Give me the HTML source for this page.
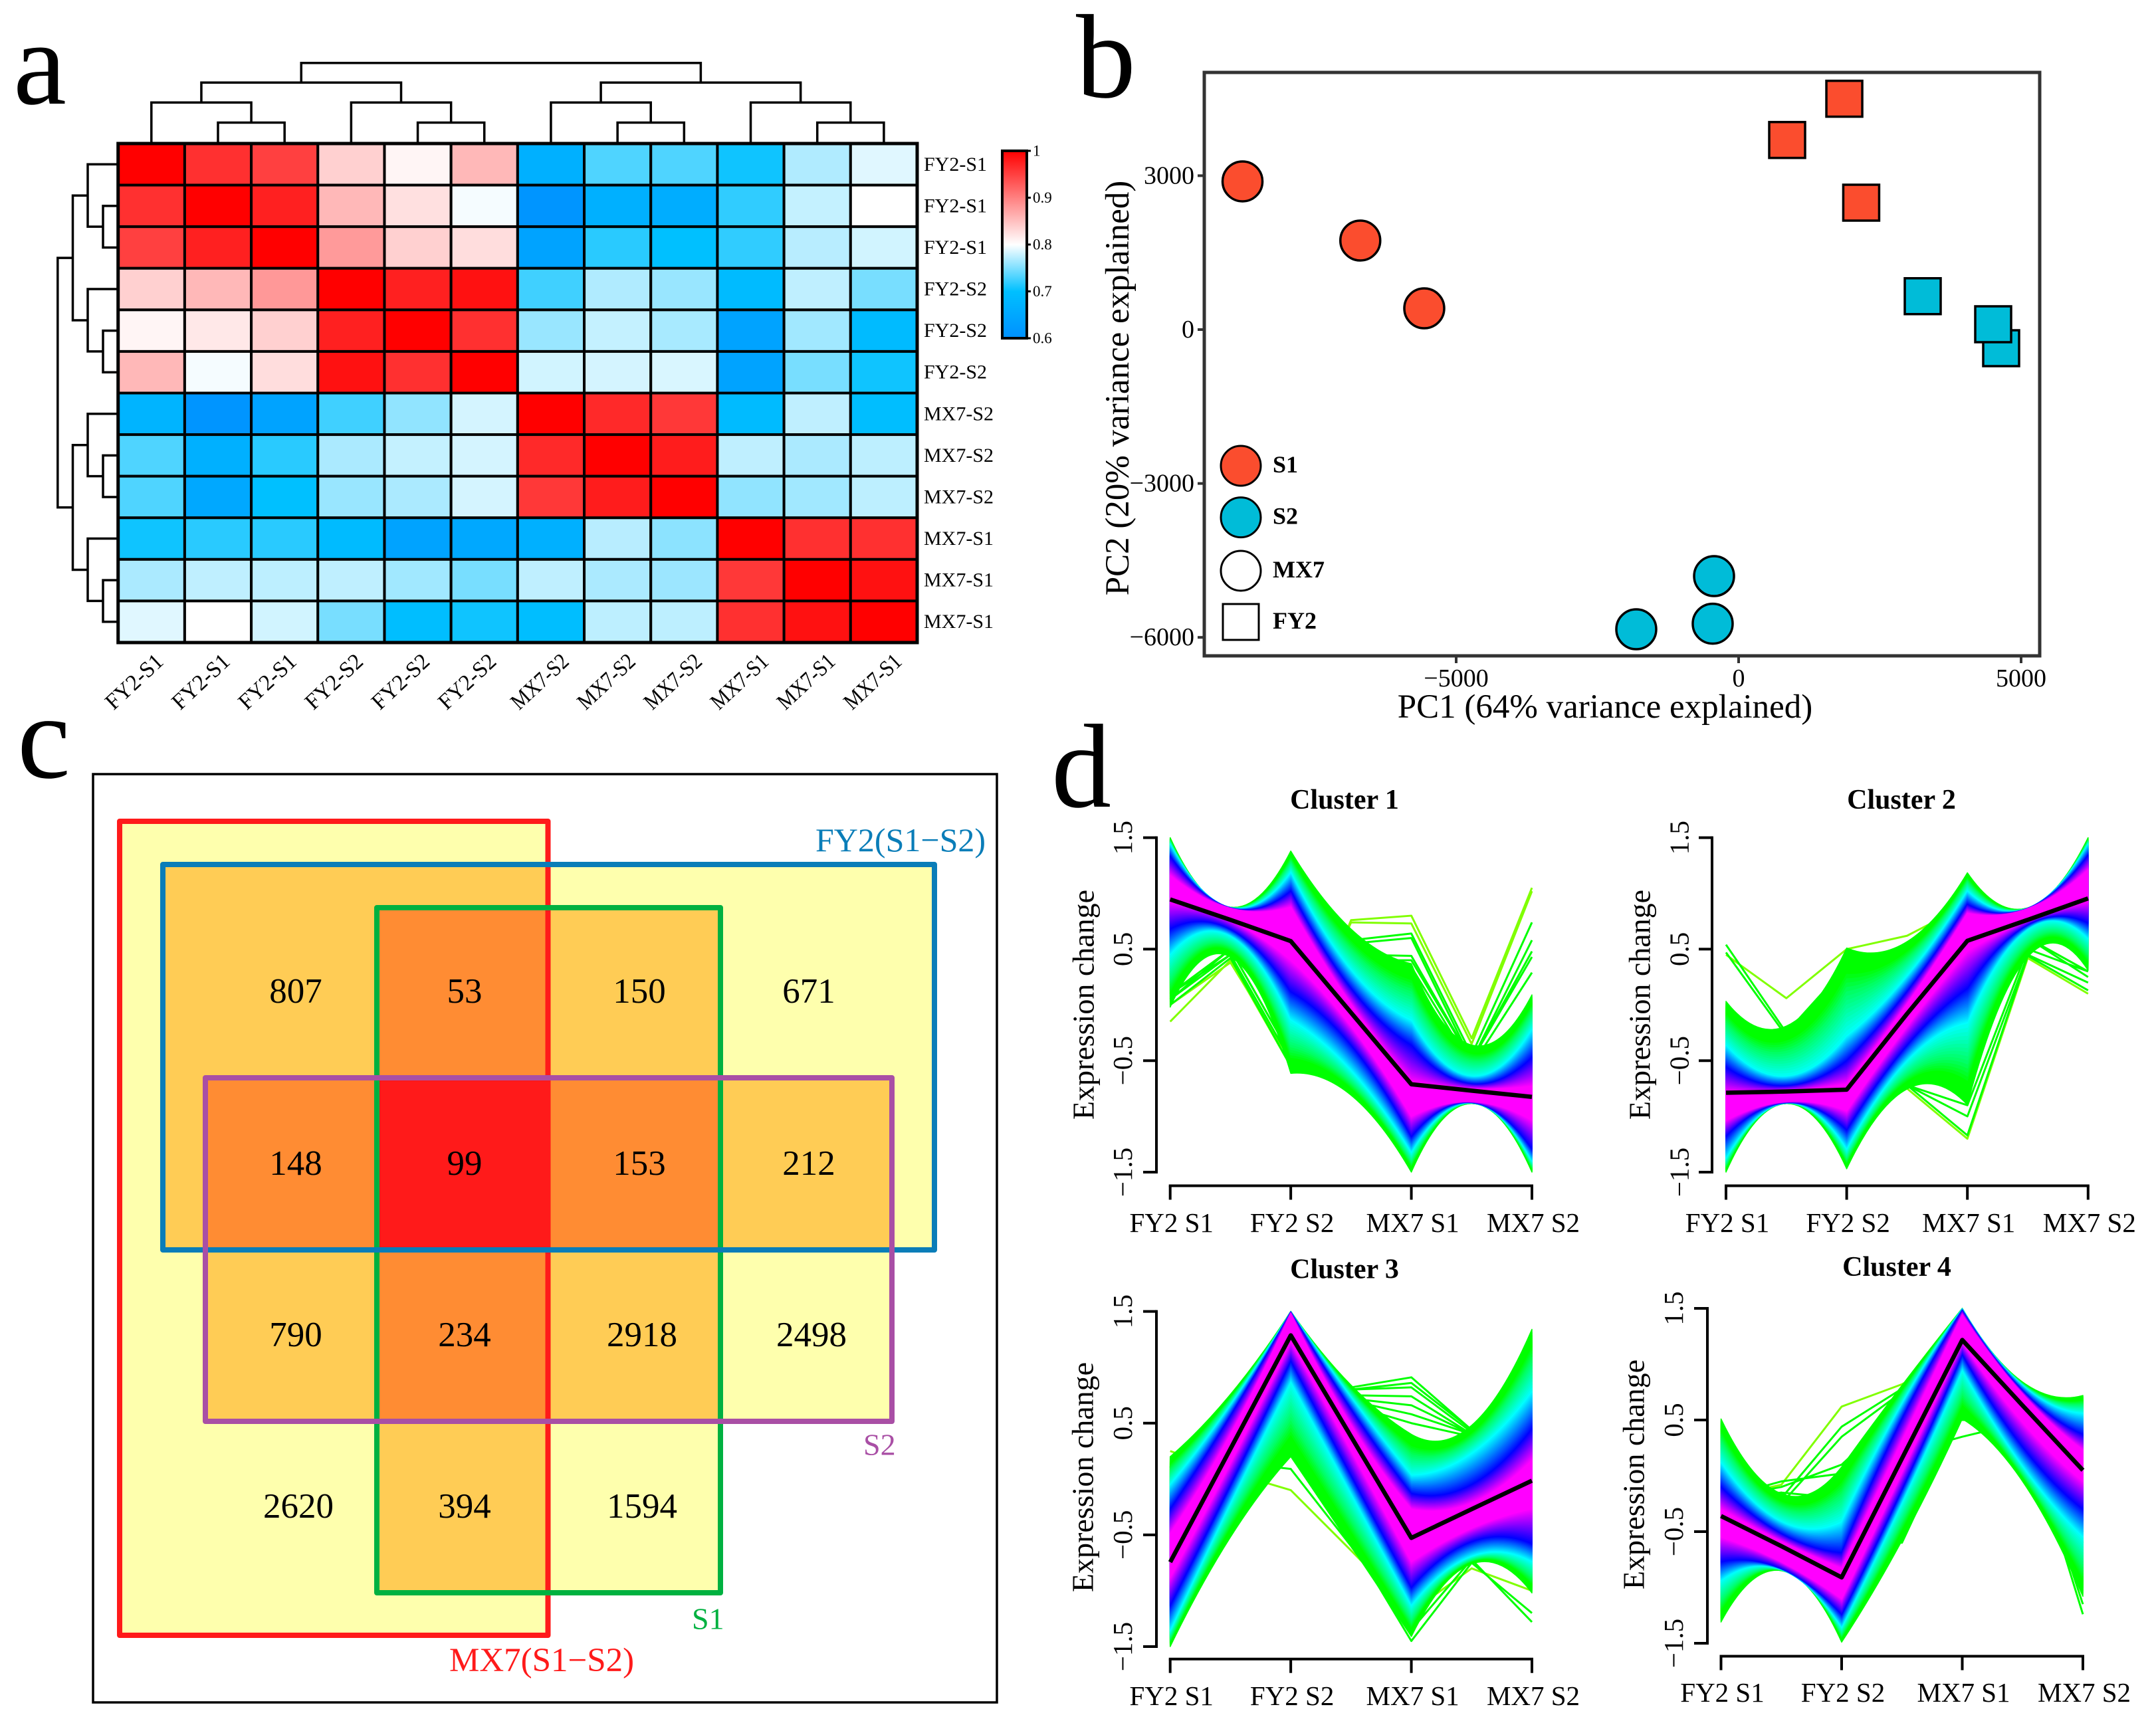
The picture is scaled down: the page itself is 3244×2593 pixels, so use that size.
<!DOCTYPE html>
<html lang="en">
<head>
<meta charset="utf-8">
<title>Expression analysis figure</title>
<style>
html,body{margin:0;padding:0;background:#fff}
svg{display:block}
text{font-family:"Liberation Serif","Noto Serif CJK SC",serif;fill:#000}
</style>
</head>
<body>
<svg id="figure" xmlns="http://www.w3.org/2000/svg" width="3244" height="2593" viewBox="0 0 3244 2593">
  <rect x="0" y="0" width="3244" height="2593" fill="#fff"/>
  <text x="20" y="156" font-size="180">a</text>
  <text x="1619" y="146" font-size="180">b</text>
  <text x="26" y="1170" font-size="180">c</text>
  <text x="1582" y="1214" font-size="180">d</text>
  <g id="panel-a"></g>
  <g id="panel-b"></g>
  <g id="panel-c"></g>
  <g id="panel-d"></g>
</svg>
<script>
/* ---------- Panel a data ---------- */
const heatRowLabels = ['FY2-S1','FY2-S1','FY2-S1','FY2-S2','FY2-S2','FY2-S2','MX7-S2','MX7-S2','MX7-S2','MX7-S1','MX7-S1','MX7-S1'];
const heatColLabels = ['FY2-S1','FY2-S1','FY2-S1','FY2-S2','FY2-S2','FY2-S2','MX7-S2','MX7-S2','MX7-S2','MX7-S1','MX7-S1','MX7-S1'];
const heatValues = [
 [1,.962,.95,.837,.808,.856,.667,.731,.731,.706,.769,.788],
 [.962,1,.975,.856,.824,.796,.61,.667,.66,.719,.777,.8],
 [.95,.975,1,.879,.837,.827,.64,.716,.70,.719,.772,.782],
 [.837,.856,.881,1,.975,.987,.725,.769,.76,.69,.775,.747],
 [.808,.818,.837,.975,1,.962,.76,.777,.766,.64,.763,.69],
 [.856,.796,.827,.987,.962,1,.782,.783,.785,.64,.747,.706],
 [.675,.61,.64,.725,.757,.783,1,.968,.956,.69,.775,.695],
 [.731,.667,.716,.767,.777,.783,.968,1,.978,.775,.767,.774],
 [.731,.65,.70,.76,.767,.783,.956,.978,1,.757,.763,.774],
 [.706,.716,.716,.69,.64,.65,.667,.772,.755,1,.962,.962],
 [.767,.775,.774,.775,.763,.747,.775,.767,.761,.956,1,.987],
 [.788,.8,.782,.747,.695,.706,.695,.774,.774,.962,.987,1]
];
const colorbarTicks = [1,.9,.8,.7,.6];
const dendroTree = [[[0,[1,2]],[3,[4,5]]],[[6,[7,8]],[9,[10,11]]]];

/* ---------- Panel b data ---------- */
const pcaXTicks = [-5000,0,5000];
const pcaYTicks = [3000,0,-3000,-6000];
const pcaPc1 = [-8782,-6697,-5565,-435,-459,-1812,1871,859,2170,3259,4647,4506];
const pcaPc2 = [2889,1736,414,-4806,-5733,-5842,4500,3696,2474,651,-363,104];
const pcaStage = ['S1','S1','S1','S2','S2','S2','S1','S1','S1','S2','S2','S2'];
const pcaLine = ['MX7','MX7','MX7','MX7','MX7','MX7','FY2','FY2','FY2','FY2','FY2','FY2'];

/* ---------- Panel c data ---------- */
const vennCountsText = [
 ['807','53','150','671'],
 ['148','99','153','212'],
 ['790','234','2918','2498'],
 ['2620','394','1594','']
];

/* ---------- Panel d data ---------- */
const clusterConditions = ['FY2 S1','FY2 S2','MX7 S1','MX7 S2'];
const clusterYTicks = [1.5,0.5,-0.5,-1.5];
/* band order at each of 7 time knots:
   green top, cyan top, blue top, magenta top, magenta bottom, blue bottom, cyan bottom, green bottom */
const cluster1Bands = [
 [1.5,1.44,1.33,1.16,.93,.68,.45,-.02],
 [.876,.873,.87,.865,.763,.68,.62,.43],
 [1.38,1.185,1.02,.876,.4,.117,-.136,-.614],
 [.68,.314,.145,.004,-.19,-.36,-.586,-.81],
 [.37,-.136,-.36,-.684,-1.0,-1.18,-1.32,-1.5],
 [-.36,-.64,-.71,-.755,-.867,-.875,-.88,-.885],
 [.09,-.22,-.47,-.727,-1.036,-1.29,-1.4,-1.5]
];
const cluster1Mean = [.946,.763,.572,-.07,-.712,-.769,-.825];
const cluster1Outliers = [
 [-.15,.4,-.55,.76,.8,-.3,1.05],
 [0,.38,-.5,.74,.73,-.35,1.02],
 [0,.42,-.55,.58,.64,-.45,.74],
 [.05,.45,-.5,.55,.6,-.5,.58],
 [.1,.45,-.5,.45,.44,-.5,.48],
 [.1,.5,-.45,.4,.4,-.5,.43],
 [.05,.5,-.45,.35,.34,-.55,.29]
];
const cluster2Bands = [
 [.032,-.36,-.558,-.783,-1.036,-1.177,-1.374,-1.5],
 [-.19,-.64,-.727,-.777,-.867,-.876,-.881,-.885],
 [.51,-.277,-.5,-.71,-.95,-1.12,-1.29,-1.47],
 [.567,.257,.117,.004,-.19,-.36,-.5,-.755],
 [1.185,1.02,.9,.82,.48,.145,-.164,-.895],
 [.87,.868,.866,.862,.763,.72,.68,.43],
 [1.5,1.44,1.34,1.21,.93,.735,.595,.31]
];
const cluster2Mean = [-.788,-.777,-.76,-.08,.575,.763,.955];
const cluster2Outliers = [
 [.45,.06,.5,.62,.9,.6,.3],
 [-.8,-.85,-.9,-.75,-1.2,.42,.1],
 [.54,-.25,.35,.5,.9,.6,.25],
 [.47,-.28,.3,.5,.9,.6,.3],
 [-.8,-.85,-.88,-.72,-1.17,.44,.13],
 [-.8,-.85,-.9,-.72,-1.0,.45,.2],
 [-.8,-.85,-.9,-.72,-.9,.5,.3]
];
const cluster3Bands = [
 [.2,-.05,-.27,-.49,-.88,-1.13,-1.355,-1.5],
 [.758,.66,.563,.396,.146,-.05,-.215,-.52],
 [1.5,1.498,1.495,1.48,1.23,1.06,.87,.2],
 [.84,.73,.62,.48,.257,.035,-.13,-.6],
 [.4,.035,-.13,-.27,-.74,-.97,-1.13,-1.41],
 [.48,.23,-.05,-.215,-.44,-.56,-.69,-.76],
 [1.34,.785,.45,.17,-.27,-.58,-.74,-1.02]
];
const cluster3Mean = [-.744,.27,1.286,.38,-.527,-.27,-.015];
const cluster3Outliers = [
 [.25,.06,-.1,-.64,-1.19,-.8,-1.0],
 [.1,.15,.09,-.6,-1.35,-.72,-1.28],
 [.1,.3,.3,-.55,-1.45,-.75,-1.2],
 [.1,.6,1.1,.82,.91,.44,.8],
 [.1,.6,1.1,.8,.86,.44,.8],
 [.1,.6,1.05,.8,.82,.42,.8],
 [.1,.6,1.0,.75,.74,.4,.8],
 [.1,.6,1.0,.72,.66,.4,.8],
 [.1,.6,.95,.7,.58,.4,.8],
 [.1,.6,.95,.66,.5,.38,.8]
];
const cluster4Bands = [
 [.51,.12,-.1,-.3,-.55,-.77,-.94,-1.31],
 [-.16,-.41,-.52,-.59,-.77,-.83,-.84,-.85],
 [.08,-.41,-.69,-.83,-1.1,-1.24,-1.355,-1.49],
 [.81,.645,.507,.31,.035,-.12,-.24,-.58],
 [1.5,1.497,1.48,1.44,1.2,1.09,.95,.51],
 [.84,.81,.76,.73,.48,.26,.09,-.05],
 [.72,.56,.37,.23,-.05,-.3,-.55,-1.08]
];
const cluster4Mean = [-.36,-.63,-.91,.155,1.217,.63,.05];
const cluster4Outliers = [
 [-.2,-.08,.62,.82,1.1,.7,.4],
 [-.2,-.2,.44,.78,1.1,.7,.4],
 [-.2,-.25,.35,.75,1.1,.7,.4],
 [-.2,-.1,.1,.6,1.0,.5,-.4],
 [-.2,-.05,.02,.5,.5,.5,-.5],
 [-.2,-.15,-.2,.2,.35,.48,-.6],
 [-.6,-.15,-.5,-.6,.56,.52,-1.24],
 [-.6,-.3,-.6,-.55,.62,.5,-1.15]
];

/* ---------- helpers ---------- */
const SVGNS = 'http://www.w3.org/2000/svg';
function mk(parent, tag, attrs){
  const el = document.createElementNS(SVGNS, tag);
  for (const k in attrs) el.setAttribute(k, attrs[k]);
  parent.appendChild(el);
  return el;
}
function txt(parent, str, x, y, size, extra){
  const el = mk(parent, 'text', Object.assign({x:x, y:y, 'font-size':size, 'dominant-baseline':'central'}, extra||{}));
  el.textContent = str;
  return el;
}
function minus(v){ return String(v).replace('-', '\u2212'); }
function lerp(a,b,t){ return a+(b-a)*t; }

/* ---------- Panel a ---------- */
(function(){
  const g = document.getElementById('panel-a');
  const left = 177.7, right = 1380, top = 216, bottom = 967;
  const n = heatValues.length;
  const cw = (right-left)/heatValues[0].length, ch = (bottom-top)/n;
  const colX = i => left + cw*(i+.5);
  const rowY = i => top + ch*(i+.5);
  function heatColor(v){
    let r,gg,b;
    if (v < .7){ const t=(v-.6)/.1; r=0; gg=lerp(144,192,t); b=255; }
    else if (v < .8){ const t=(v-.7)/.1; r=lerp(0,255,t); gg=lerp(192,255,t); b=255; }
    else { const t=(v-.8)/.2; r=255; gg=lerp(255,0,t); b=lerp(255,0,t); }
    return 'rgb('+Math.round(r)+','+Math.round(gg)+','+Math.round(b)+')';
  }
  heatValues.forEach((row,ri)=>row.forEach((v,ci)=>{
    const c = mk(g,'rect',{x:left+cw*ci,y:top+ch*ri,width:cw,height:ch,fill:heatColor(v),stroke:'#000','stroke-width':4});
    
    
  }));
  const frame = mk(g,'rect',{x:left,y:top,width:right-left,height:bottom-top,fill:'none',stroke:'#000','stroke-width':5});
  
  
  heatRowLabels.forEach((s,i)=>{
    const t = txt(g,s,1390,rowY(i),30);
    
    
  });
  heatColLabels.forEach((s,i)=>{
    const x = colX(i)+(s.charAt(0)==='M'?29:20), y = 998;
    const t = mk(g,'text',{x:x,y:y,'font-size':34,'text-anchor':'end',textLength:105,lengthAdjust:'spacingAndGlyphs',transform:'rotate(-43 '+x+' '+y+')'});
    t.textContent = s;
    
    
  });
  /* dendrograms */
  const topLevels = [94.7,124.2,154.3,184.5], topBase = 214;
  const leftLevels = [86.8,109.5,132,155], leftBase = 175.6;
  function drawTree(node, depth, pos, levels, base, horizontal, name){
    if (typeof node === 'number') return {c:pos(node), h:base};
    const a = drawTree(node[0], depth+1, pos, levels, base, horizontal, name);
    const b = drawTree(node[1], depth+1, pos, levels, base, horizontal, name);
    const h = levels[depth];
    const d = horizontal
      ? 'M'+a.c+' '+a.h+'V'+h+'H'+b.c+'V'+b.h
      : 'M'+a.h+' '+a.c+'H'+h+'V'+b.c+'H'+b.h;
    const p = mk(g,'path',{d:d,fill:'none',stroke:'#000','stroke-width':3.5});
    
    
    return {c:(a.c+b.c)/2, h:h};
  }
  drawTree(dendroTree,0,colX,topLevels,topBase,true,'column-dendrogram-branch');
  drawTree(dendroTree,0,rowY,leftLevels,leftBase,false,'row-dendrogram-branch');
  /* colour bar */
  const cbx=1508, cbw=37, cbTop=227, cbBot=509;
  const cbY = v => cbBot - (v-.6)/.4*(cbBot-cbTop);
  const defs = mk(g,'defs',{});
  const grad = mk(defs,'linearGradient',{id:'cbgrad',x1:0,y1:1,x2:0,y2:0});
  [.6,.65,.7,.75,.8,.85,.9,.95,1].forEach(v=>{
    mk(grad,'stop',{offset:(v-.6)/.4,'stop-color':heatColor(v)});
  });
  const bar = mk(g,'rect',{x:cbx,y:cbTop,width:cbw,height:cbBot-cbTop,fill:'url(#cbgrad)',stroke:'#000','stroke-width':4});
  
  
  colorbarTicks.forEach(v=>{
    const tk = mk(g,'line',{x1:cbx+cbw,x2:cbx+cbw+6,y1:cbY(v),y2:cbY(v),stroke:'#000','stroke-width':3});
    
    
    const t = txt(g,String(v).replace(/^\./,'0.'),1554,cbY(v),23);
    
    
  });
})();

/* ---------- Panel b ---------- */
(function(){
  const g = document.getElementById('panel-b');
  const bx0=1812,bx1=3069,by0=109,by1=987;
  const xS = v => 2616 + v*0.085;
  const yS = v => 496 - v*0.0772;
  const stageColor = {S1:'#fb4d2e',S2:'#00bcd8'};
  const box = mk(g,'rect',{x:bx0,y:by0,width:bx1-bx0,height:by1-by0,fill:'#fff',stroke:'#333','stroke-width':5});
  
  
  pcaXTicks.forEach(v=>{
    const tk = mk(g,'line',{x1:xS(v),x2:xS(v),y1:by1,y2:by1+11,stroke:'#333','stroke-width':4});
    
    
    const t = txt(g,minus(v),xS(v),1021,38,{'text-anchor':'middle'});
    
    
  });
  pcaYTicks.forEach(v=>{
    const tk = mk(g,'line',{x1:bx0-10,x2:bx0,y1:yS(v),y2:yS(v),stroke:'#333','stroke-width':4});
    
    
    const t = txt(g,minus(v),1797,yS(v),38,{'text-anchor':'end'});
    
    
  });
  const xt = txt(g,'PC1 (64% variance explained)',2415,1064,51,{'text-anchor':'middle'});
  
  
  const yt = txt(g,'PC2 (20% variance explained)',1682,584,51,{'text-anchor':'middle',transform:'rotate(-90 1682 584)'});
  
  
  pcaPc1.forEach((v,i)=>{
    const cx=xS(v), cy=yS(pcaPc2[i]), fill=stageColor[pcaStage[i]];
    let m;
    if (pcaLine[i]==='MX7') m = mk(g,'circle',{cx:cx,cy:cy,r:30,fill:fill,stroke:'#000','stroke-width':3.5});
    else m = mk(g,'rect',{x:cx-27,y:cy-27,width:54,height:54,fill:fill,stroke:'#000','stroke-width':3.5});
    
    
  });
  const lg = mk(g,'g',{});
  
  
  [['S1',701,'c','#fb4d2e'],['S2',778.6,'c','#00bcd8'],['MX7',859,'c','#fff'],['FY2',936,'s','#fff']].forEach(e=>{
    let m;
    if (e[2]==='c') m = mk(lg,'circle',{cx:1867,cy:e[1],r:30,fill:e[3],stroke:'#000','stroke-width':3});
    else m = mk(lg,'rect',{x:1840,y:e[1]-27,width:54,height:54,fill:e[3],stroke:'#000','stroke-width':3});
    
    
    const t = txt(lg,e[0],1915,e[1]-2,36,{'font-weight':'bold'});
    
    
  });
})();

/* ---------- Panel c ---------- */
(function(){
  const g = document.getElementById('panel-c');
  const outer = mk(g,'rect',{x:140,y:1165,width:1360,height:1397,fill:'#fff',stroke:'#000','stroke-width':3.5});
  
  
  const sets = [
    {n:'mx7-set',x0:180,x1:824.5,y0:1236,y1:2461,c:'#ff1a1a'},
    {n:'s1-set',x0:567,x1:1084,y0:1366,y1:2397,c:'#00b140'},
    {n:'fy2-set',x0:245,x1:1406,y0:1301,y1:1881,c:'#0a7db8'},
    {n:'s2-set',x0:309,x1:1342,y0:1622,y1:2139,c:'#a94fa5'}
  ];
  const xs=[180,245,309,567,824.5,1084,1342,1406], ys=[1236,1301,1366,1622,1881,2139,2397,2461];
  const fills=[null,'#feffad','#ffcc55','#ff8c33','#ff1a1a'];
  for (let i=0;i<xs.length-1;i++) for (let j=0;j<ys.length-1;j++){
    const mx=(xs[i]+xs[i+1])/2,my=(ys[j]+ys[j+1])/2;
    const count=sets.filter(s=>mx>s.x0&&mx<s.x1&&my>s.y0&&my<s.y1).length;
    if(!count) continue;
    const r = mk(g,'rect',{x:xs[i],y:ys[j],width:xs[i+1]-xs[i]+.5,height:ys[j+1]-ys[j]+.5,fill:fills[count]});
    
    
  }
  sets.forEach(s=>{
    const r = mk(g,'rect',{x:s.x0,y:s.y0,width:s.x1-s.x0,height:s.y1-s.y0,fill:'none',stroke:s.c,'stroke-width':8,'stroke-linejoin':'round'});
    
    
  });
  const rowYs=[1492,1751,2009,2267], colXs=[445,699,962,1217];
  vennCountsText.forEach((row,ri)=>row.forEach((s,ci)=>{
    if(!s) return;
    const off = s.length>3 ? 4 : 0;
    const t = txt(g,s,colXs[ci]+off,rowYs[ri],53,{'text-anchor':'middle'});
    
    
  }));
  [['FY2(S1\u2212S2)',1227,1264,'#0a7db8','fy2-set-label',50],['S2',1299,2174,'#a94fa5','s2-set-label',46],['S1',1041,2436,'#00b140','s1-set-label',46],['MX7(S1\u2212S2)',676,2499,'#ff1a1a','mx7-set-label',51]].forEach(e=>{
    const t = txt(g,e[0],e[1],e[2],e[5],{style:'fill:'+e[3]});
    
    
  });
})();

/* ---------- Panel d ---------- */
(function(){
  const g = document.getElementById('panel-d');
  const colorStops = [[0,[255,0,255]],[.5,[128,0,255]],[1,[0,0,255]],[1.5,[0,128,255]],[2,[0,255,255]],[2.5,[0,255,102]],[2.75,[0,255,0]],[3,[0,255,0]]];
  function levelColor(k){
    for (let i=0;i<colorStops.length-1;i++){
      const a=colorStops[i],b=colorStops[i+1];
      if (k<=b[0]){
        const t=(k-a[0])/(b[0]-a[0]);
        return 'rgb('+a[1].map((c,n)=>Math.round(lerp(c,b[1][n],t))).join(',')+')';
      }
    }
    return 'rgb(0,255,0)';
  }
  function edgeValue(band, k, isTop){
    const idx = isTop ? [3,2,1,0] : [4,5,6,7];
    const f = Math.min(Math.floor(k),2), t = k-f;
    return lerp(band[idx[f]], band[idx[f+1]], t);
  }
  const panels = [
    {name:'cluster-1',title:'Cluster 1',bands:cluster1Bands,mean:cluster1Mean,out:cluster1Outliers,x0:1760.7,x3:2305,yTop:1260.6,yBot:1764,axX:1740,axY:1784.5,labY:1840,titleX:2023,titleY:1204,ylabX:1630,ylabY:1512,tickX:1689,lime:2},
    {name:'cluster-2',title:'Cluster 2',bands:cluster2Bands,mean:cluster2Mean,out:cluster2Outliers,x0:2597,x3:3141.8,yTop:1260.6,yBot:1764,axX:2576,axY:1784.5,labY:1840,titleX:2861,titleY:1204,ylabX:2467,ylabY:1512,tickX:2526.5,lime:2},
    {name:'cluster-3',title:'Cluster 3',bands:cluster3Bands,mean:cluster3Mean,out:cluster3Outliers,x0:1760.7,x3:2305,yTop:1973.6,yBot:2478,axX:1740,axY:2496.7,labY:2552,titleX:2023,titleY:1910.5,ylabX:1629,ylabY:2223,tickX:1689,lime:1},
    {name:'cluster-4',title:'Cluster 4',bands:cluster4Bands,mean:cluster4Mean,out:cluster4Outliers,x0:2589.5,x3:3134,yTop:1969,yBot:2473,axX:2569,axY:2492.5,labY:2547,titleX:2854,titleY:1907,ylabX:2458,ylabY:2219,tickX:2518,lime:1}
  ];
  panels.forEach(p=>{
    const pg = mk(g,'g',{});
    
    
    const xS = i => p.x0 + (p.x3-p.x0)*i/6;
    const yS = v => p.yTop + (1.5-v)/3*(p.yBot-p.yTop);
    /* outlier gene lines sit beneath the colour bands */
    p.out.forEach((line,li)=>{
      const pts = line.map((v,i)=>xS(i)+','+yS(v)).join(' ');
      const o = mk(pg,'polyline',{points:pts,fill:'none',stroke:li<p.lime?'#80ff00':'#00ff00','stroke-width':3,'stroke-linejoin':'round'});
      
      
    });
    /* ribbons from outer (green) to inner (magenta) */
    for (let step=60; step>=0; step--){
      const k = step/20;
      const topVals = p.bands.map(b=>edgeValue(b,k,true));
      const botVals = p.bands.map(b=>edgeValue(b,k,false));
      let d = 'M'+xS(0)+' '+yS(topVals[0]);
      for (let i=0;i<6;i+=2){
        const c = 2*topVals[i+1]-(topVals[i]+topVals[i+2])/2;
        d += 'Q'+xS(i+1)+' '+yS(c)+' '+xS(i+2)+' '+yS(topVals[i+2]);
      }
      d += 'L'+xS(6)+' '+yS(botVals[6]);
      for (let i=6;i>0;i-=2){
        const c = 2*botVals[i-1]-(botVals[i]+botVals[i-2])/2;
        d += 'Q'+xS(i-1)+' '+yS(c)+' '+xS(i-2)+' '+yS(botVals[i-2]);
      }
      d += 'Z';
      const col = levelColor(k);
      const band = mk(pg,'path',{d:d,fill:col,stroke:col,'stroke-width':1.5,'stroke-linejoin':'round'});
      
      
    }
    const meanPts = p.mean.map((v,i)=>xS(i)+','+yS(v)).join(' ');
    const ml = mk(pg,'polyline',{points:meanPts,fill:'none',stroke:'#000','stroke-width':6.5,'stroke-linejoin':'round'});
    
    
    /* axes */
    const yAxis = mk(pg,'line',{x1:p.axX,x2:p.axX,y1:yS(1.5)-2,y2:yS(-1.5)+2,stroke:'#000','stroke-width':4});
    
    
    clusterYTicks.forEach(v=>{
      const tk = mk(pg,'line',{x1:p.axX-20,x2:p.axX,y1:yS(v),y2:yS(v),stroke:'#000','stroke-width':4});
      
      
      const t = txt(pg,minus(v.toFixed(1)),p.tickX,yS(v),41,{'text-anchor':'middle',transform:'rotate(-90 '+p.tickX+' '+yS(v)+')'});
      
      
    });
    const xAxis = mk(pg,'line',{x1:xS(0)-2,x2:xS(6)+2,y1:p.axY,y2:p.axY,stroke:'#000','stroke-width':4});
    
    
    clusterConditions.forEach((s,i)=>{
      const x = xS(i*2);
      const tk = mk(pg,'line',{x1:x,x2:x,y1:p.axY,y2:p.axY+21,stroke:'#000','stroke-width':4});
      
      
      const t = txt(pg,s,x+2,p.labY,41,{'text-anchor':'middle'});
      
      
    });
    const title = txt(pg,p.title,p.titleX,p.titleY,42,{'text-anchor':'middle','font-weight':'bold'});
    
    
    const yl = txt(pg,'Expression change',p.ylabX,p.ylabY,46,{'text-anchor':'middle',transform:'rotate(-90 '+p.ylabX+' '+p.ylabY+')'});
    
    
  });
})();
</script>
</body>
</html>
